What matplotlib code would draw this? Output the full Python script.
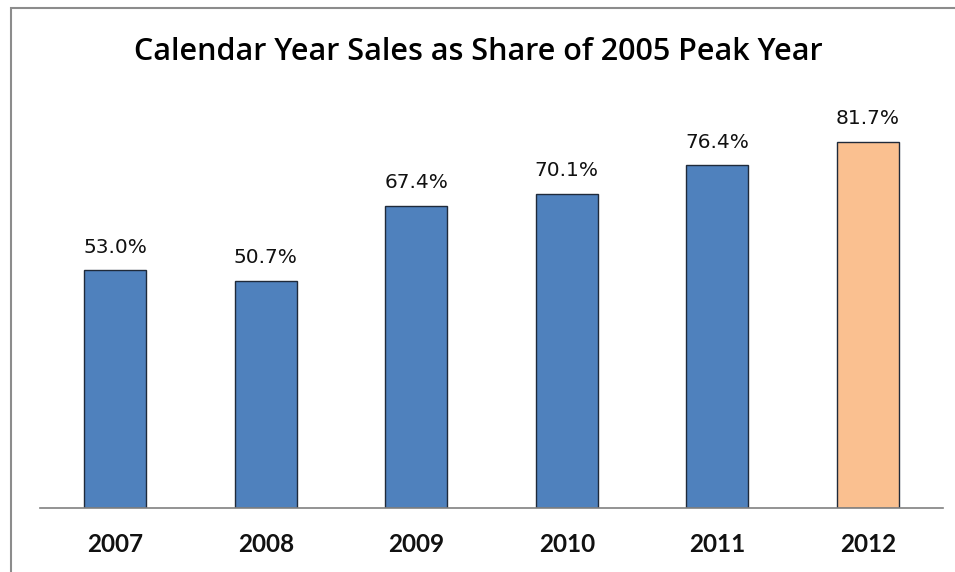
import matplotlib
matplotlib.use("Agg")
import matplotlib.pyplot as plt
from matplotlib.patches import Rectangle

# chart data
years = ["2007", "2008", "2009", "2010", "2011", "2012"]
shares = [53.0, 50.7, 67.4, 70.1, 76.4, 81.7]
labels = ["53.0%", "50.7%", "67.4%", "70.1%", "76.4%", "81.7%"]
colors = ["#4F81BD"] * 5 + ["#FAC090"]

W, H = 955, 572
fig = plt.figure(figsize=(W / 100, H / 100), dpi=100)

# outer chart border (runs off the right and bottom edges)
fig.patches.append(Rectangle((11 / W, -0.1), 1.2, 1.1 - 8 / H,
                             transform=fig.transFigure, fill=False,
                             edgecolor="#8c8c8c", linewidth=1.5))

ax = fig.add_axes([40 / W, 64 / H, 903 / W, 448.5 / H])
x = range(len(years))
ax.bar(x, shares, width=0.41, color=colors, edgecolor="#1f2a3a", linewidth=1.0)

for xi, v, lab in zip(x, shares, labels):
    ax.text(xi, v + 3.0, lab, ha="center", va="bottom",
            fontsize=14.5, family="DejaVu Sans", color="#111111")

ax.set_xlim(-0.5, 5.5)
ax.set_ylim(0, 100)
ax.set_xticks(list(x))
ax.set_xticklabels(years, fontsize=17.5, family="Lato", fontweight="bold",
                   color="#111111")
ax.tick_params(axis="x", length=0, pad=18)
ax.set_yticks([])
for s in ["top", "right", "left"]:
    ax.spines[s].set_visible(False)
ax.spines["bottom"].set_color("#808080")
ax.spines["bottom"].set_linewidth(1.2)

fig.text(478 / W, 1 - 52 / H, "Calendar Year Sales as Share of 2005 Peak Year",
         ha="center", va="center", fontsize=22, family="Open Sans",
         fontweight="semibold", color="#000000")

fig.savefig("out.png", dpi=100)
